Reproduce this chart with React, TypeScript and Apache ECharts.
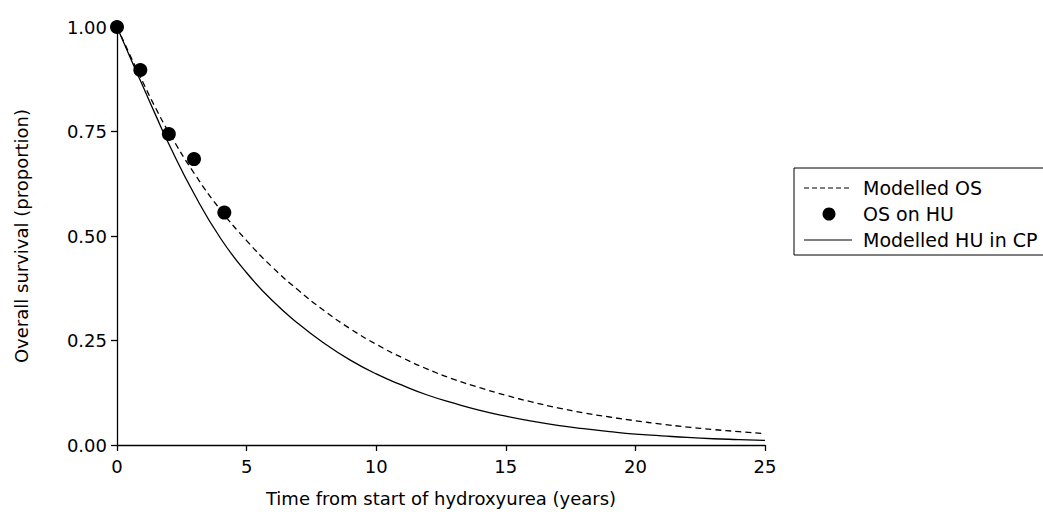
import React, { useEffect, useRef } from "react";
import * as echarts from "echarts";

// Time grid (years) for the modelled curves
const timeYears = [0, 0.5, 1, 1.5, 2, 3, 4, 5, 6, 7, 8, 9, 10, 11, 12, 13, 14, 15, 16, 17, 18, 19, 20, 21, 22, 23, 24, 25];
// Modelled OS (dashed)
const modelledOS = [1.0, 0.933, 0.868, 0.805, 0.748, 0.648, 0.562, 0.489, 0.425, 0.37, 0.321, 0.278, 0.241, 0.209, 0.181, 0.157, 0.137, 0.119, 0.103, 0.089, 0.077, 0.067, 0.058, 0.05, 0.043, 0.037, 0.032, 0.027];
// Modelled HU in CP (solid)
const modelledHU = [1.0, 0.928, 0.858, 0.788, 0.72, 0.598, 0.494, 0.412, 0.345, 0.29, 0.243, 0.203, 0.17, 0.143, 0.119, 0.1, 0.083, 0.069, 0.057, 0.047, 0.039, 0.032, 0.026, 0.022, 0.018, 0.015, 0.013, 0.011];
// Observed OS on HU (points)
const osOnHUTime = [0, 0.9, 2.0, 2.97, 4.14];
const osOnHUValue = [1.0, 0.897, 0.744, 0.684, 0.556];

const xTicks = [0, 5, 10, 15, 20, 25];
const yTicks = [0, 0.25, 0.5, 0.75, 1.0];

const FONT = "DejaVu Sans";

export default function App() {
  const ref = useRef<HTMLDivElement>(null);

  useEffect(() => {
    if (!ref.current) return;
    const chart = echarts.init(ref.current, undefined, { renderer: "svg" });
    const osData = timeYears.map((t, i) => [t, modelledOS[i]]);
    const huData = timeYears.map((t, i) => [t, modelledHU[i]]);
    const ptData = osOnHUTime.map((t, i) => [t, osOnHUValue[i]]);

    const legendFont = 19;
    chart.setOption({
      animation: false,
      backgroundColor: "#fff",
      textStyle: { fontFamily: FONT, color: "#000" },
      grid: { left: 117, right: 278, top: 27, bottom: 64, containLabel: false },
      xAxis: {
        type: "value",
        min: xTicks[0],
        max: xTicks[xTicks.length - 1],
        interval: 5,
        name: "Time from start of hydroxyurea (years)",
        nameLocation: "middle",
        nameGap: 44,
        nameTextStyle: { fontFamily: FONT, fontSize: 18, color: "#000" },
        axisLine: { show: true, onZero: false, lineStyle: { color: "#000", width: 1.3 } },
        axisTick: { show: true, length: 6, lineStyle: { color: "#000", width: 1.3 } },
        axisLabel: { fontFamily: FONT, fontSize: 18, color: "#000", margin: 12 },
        splitLine: { show: false },
      },
      yAxis: {
        type: "value",
        min: yTicks[0],
        max: yTicks[yTicks.length - 1],
        interval: 0.25,
        name: "Overall survival (proportion)",
        nameLocation: "middle",
        nameGap: 87,
        nameTextStyle: { fontFamily: FONT, fontSize: 18, color: "#000" },
        axisLine: { show: true, lineStyle: { color: "#000", width: 1.3 } },
        axisTick: { show: true, length: 6, lineStyle: { color: "#000", width: 1.3 } },
        axisLabel: {
          fontFamily: FONT,
          fontSize: 18,
          color: "#000",
          margin: 10,
          formatter: (v: number) => v.toFixed(2),
        },
        splitLine: { show: false },
      },
      series: [
        {
          name: "Modelled OS",
          type: "line",
          data: osData,
          smooth: 0.5,
          symbol: "none",
          lineStyle: { color: "#000", width: 1.3, type: [6, 4] },
          z: 2,
        },
        {
          name: "Modelled HU in CP",
          type: "line",
          data: huData,
          smooth: 0.5,
          symbol: "none",
          lineStyle: { color: "#000", width: 1.3, type: "solid" },
          z: 2,
        },
        {
          name: "OS on HU",
          type: "scatter",
          data: ptData,
          symbol: "circle",
          symbolSize: 14,
          itemStyle: { color: "#000", opacity: 1 },
          z: 3,
        },
      ],
      graphic: [
        {
          type: "group",
          children: [
            {
              type: "rect",
              shape: { x: 794, y: 168, width: 300, height: 87 },
              style: { fill: "#fff", stroke: "#000", lineWidth: 1 },
            },
            {
              type: "line",
              shape: { x1: 804, y1: 188, x2: 852, y2: 188 },
              style: { stroke: "#000", lineWidth: 1.2, lineDash: [5, 3] },
            },
            {
              type: "text",
              x: 863,
              y: 188,
              style: { text: "Modelled OS", fontFamily: FONT, fontSize: legendFont, fill: "#000", verticalAlign: "middle" },
            },
            {
              type: "circle",
              shape: { cx: 829, cy: 214, r: 6.5 },
              style: { fill: "#000" },
            },
            {
              type: "text",
              x: 863,
              y: 214,
              style: { text: "OS on HU", fontFamily: FONT, fontSize: legendFont, fill: "#000", verticalAlign: "middle" },
            },
            {
              type: "line",
              shape: { x1: 804, y1: 240, x2: 852, y2: 240 },
              style: { stroke: "#000", lineWidth: 1.2 },
            },
            {
              type: "text",
              x: 863,
              y: 240,
              style: { text: "Modelled HU in CP", fontFamily: FONT, fontSize: legendFont, fill: "#000", verticalAlign: "middle" },
            },
          ],
        },
      ],
    });
    return () => chart.dispose();
  }, []);

  return (
    <div
      ref={ref}
      style={{ position: "absolute", left: 0, top: 0, width: 1043, height: 512, background: "#fff" }}
    />
  );
}
